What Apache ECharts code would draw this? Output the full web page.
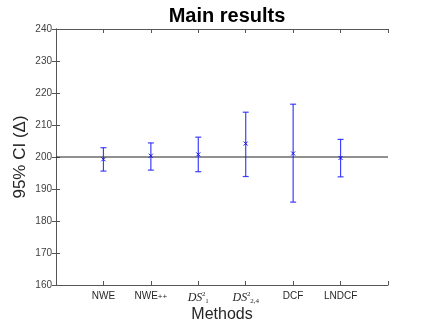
<!DOCTYPE html>
<html><head><meta charset="utf-8">
<script src="https://cdn.jsdelivr.net/npm/echarts@6/dist/echarts.min.js"></script>
<style>html,body{margin:0;padding:0;background:#fff}#c{width:429px;height:322px}</style>
</head><body><div id="c"></div>
<script>
var methods = ['NWE', 'NWE++', 'DS1', 'DS24', 'DCF', 'LNDCF'];
var centers = [199.3, 200.4, 200.8, 204.2, 201.1, 199.7];
var lowers  = [195.6, 195.9, 195.4, 193.9, 185.9, 193.8];
var uppers  = [202.9, 204.4, 206.2, 214.0, 216.5, 205.5];
var refValue = 200;
var yTicks = [160, 170, 180, 190, 200, 210, 220, 230, 240];

var labelMap = {
  'NWE': 'NWE',
  'NWE++': 'NWE{pp|++}',
  'DS1': '{i|DS}{sp|2}{sb|1}',
  'DS24': '{i|DS}{sp|2}{sb|2,4}',
  'DCF': 'DCF',
  'LNDCF': 'LNDCF'
};

var ebData = methods.map(function (m, i) { return [i + 1, centers[i], lowers[i], uppers[i]]; });
var blue = 'rgba(30,30,255,0.85)';
var sans = 'Liberation Sans, Arial, sans-serif';
var serif = 'Liberation Serif, DejaVu Serif, serif';

var chart = echarts.init(document.getElementById('c'), null, {renderer: 'canvas'});
chart.setOption({
  animation: false,
  title: {
    text: 'Main results', left: 222, textAlign: 'center', top: 1,
    textStyle: {fontFamily: sans, fontWeight: 'bold', fontSize: 20, color: '#000'}
  },
  grid: {left: 56, right: 41, top: 29, bottom: 37, outerBoundsMode: 'none', containLabel: false},
  xAxis: [{
    type: 'value', min: 0, max: 7, interval: 1, position: 'bottom',
    name: 'Methods', nameLocation: 'middle', nameGap: 22, nameMoveOverlap: false,
    nameTextStyle: {fontFamily: sans, fontSize: 16, color: '#262626'},
    axisLine: {lineStyle: {color: '#555', width: 1}},
    axisTick: {inside: true, length: 4, lineStyle: {color: '#555'}},
    splitLine: {show: false},
    axisLabel: {
      margin: 6, color: '#262626', fontSize: 10, fontFamily: sans,
      formatter: function (v) { return (v >= 1 && v <= methods.length) ? labelMap[methods[v - 1]] : ''; },
      rich: {
        pp: {fontSize: 8, fontFamily: sans, color: '#262626', verticalAlign: 'bottom'},
        i: {fontSize: 12, fontStyle: 'italic', fontFamily: serif, color: '#262626'},
        sp: {fontSize: 7, fontFamily: serif, color: '#262626', verticalAlign: 'top', width: 1, padding: [0, 0, 7, 1]},
        sb: {fontSize: 7, fontFamily: serif, color: '#262626', verticalAlign: 'bottom', padding: [6, 0, 0, 1]}
      }
    }
  }, {
    type: 'value', min: 0, max: 7, interval: 1, position: 'top',
    axisLine: {show: true, lineStyle: {color: '#555', width: 1}},
    axisTick: {inside: true, length: 4, lineStyle: {color: '#555'}},
    axisLabel: {show: false}, splitLine: {show: false}
  }],
  yAxis: [{
    type: 'value', min: yTicks[0], max: yTicks[yTicks.length - 1], interval: 10, position: 'left',
    name: '95% CI (Δ)', nameLocation: 'middle', nameGap: 27, nameRotate: 90, nameMoveOverlap: false,
    nameTextStyle: {fontFamily: sans, fontSize: 17, color: '#262626'},
    axisLine: {show: true, lineStyle: {color: '#555', width: 1}},
    axisTick: {show: true, inside: true, length: 4, lineStyle: {color: '#555'}},
    splitLine: {show: false},
    axisLabel: {margin: 4, color: '#404040', fontSize: 10, fontFamily: sans}
  }, {
    type: 'value', min: yTicks[0], max: yTicks[yTicks.length - 1], interval: 10, position: 'right',
    axisLine: {show: true, lineStyle: {color: '#555', width: 1}},
    axisTick: {show: true, inside: true, length: 4, lineStyle: {color: '#555'}},
    axisLabel: {show: false}, splitLine: {show: false}
  }],
  series: [{
    type: 'line', xAxisIndex: 0, yAxisIndex: 0,
    data: [[0, refValue], [7, refValue]], symbol: 'none',
    lineStyle: {color: '#222', width: 1}, z: 1
  }, {
    type: 'custom', xAxisIndex: 0, yAxisIndex: 0, z: 3,
    data: ebData,
    renderItem: function (params, api) {
      var x = api.value(0);
      var c = api.coord([x, api.value(1)]);
      var lo = api.coord([x, api.value(2)]);
      var hi = api.coord([x, api.value(3)]);
      var cw = 3, m = 2;
      var st = {stroke: blue, lineWidth: 1.2};
      return {
        type: 'group',
        children: [
          {type: 'line', shape: {x1: lo[0], y1: lo[1], x2: hi[0], y2: hi[1]}, style: st},
          {type: 'line', shape: {x1: lo[0] - cw, y1: lo[1], x2: lo[0] + cw, y2: lo[1]}, style: st},
          {type: 'line', shape: {x1: hi[0] - cw, y1: hi[1], x2: hi[0] + cw, y2: hi[1]}, style: st},
          {type: 'line', shape: {x1: c[0] - m, y1: c[1] - m, x2: c[0] + m, y2: c[1] + m}, style: {stroke: '#1010e0', lineWidth: 1}},
          {type: 'line', shape: {x1: c[0] - m, y1: c[1] + m, x2: c[0] + m, y2: c[1] - m}, style: {stroke: '#1010e0', lineWidth: 1}}
        ]
      };
    }
  }]
});
</script></body></html>
